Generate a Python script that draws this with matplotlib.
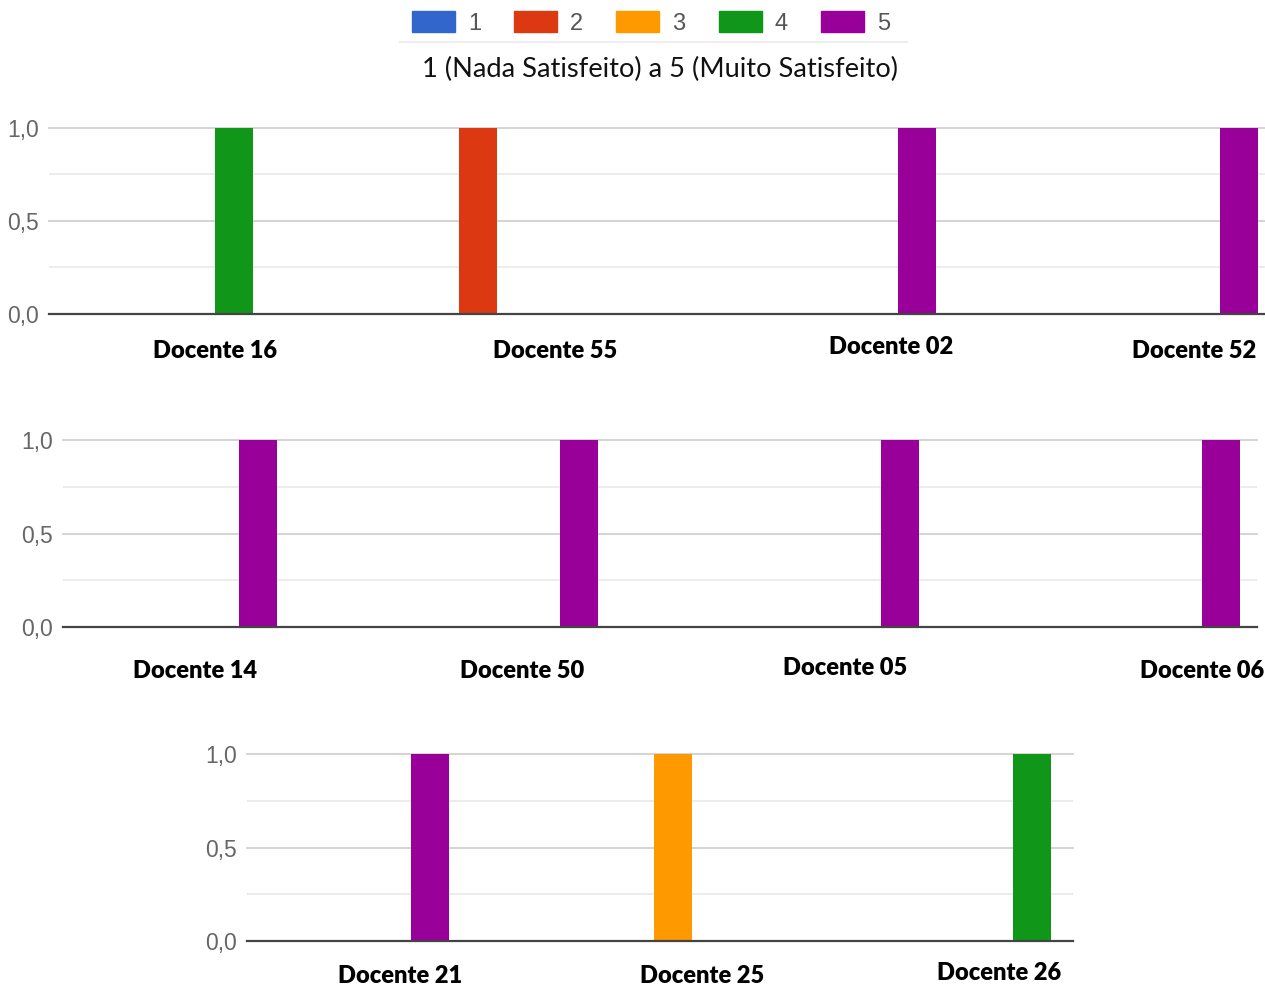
import matplotlib
matplotlib.use("Agg")
import matplotlib.pyplot as plt
from matplotlib.patches import Patch
from matplotlib.lines import Line2D
import numpy as np

###########################################################
### -------------------- DATA -----------------------------
###########################################################

ratings = ['1', '2', '3', '4', '5']
rating_colors = ['#3366cc', '#dc3912', '#ff9900', '#109618', '#990099']
title = '1 (Nada Satisfeito) a 5 (Muito Satisfeito)'

# counts per rating (one list per rating 1..5), one value per docente
row1_names = ['Docente 16', 'Docente 55', 'Docente 02', 'Docente 52']
row1_counts = [[0, 0, 0, 0], [0, 1, 0, 0], [0, 0, 0, 0], [1, 0, 0, 0], [0, 0, 1, 1]]

row2_names = ['Docente 14', 'Docente 50', 'Docente 05', 'Docente 06']
row2_counts = [[0, 0, 0, 0], [0, 0, 0, 0], [0, 0, 0, 0], [0, 0, 0, 0], [1, 1, 1, 1]]

row3_names = ['Docente 21', 'Docente 25', 'Docente 26']
row3_counts = [[0, 0, 0], [0, 0, 0], [0, 1, 0], [0, 0, 1], [1, 0, 0]]

yticks = [0.0, 0.5, 1.0]
ytick_labels = ['0,0', '0,5', '1,0']

###########################################################
### -------------------- LAYOUT ---------------------------
###########################################################

W, H = 1265, 988
# (left, right, top, bottom) in pixels, x limits, label x (data) and label y (axes frac)
rows = [
    dict(names=row1_names, counts=row1_counts, box=(49, 1265, 128, 314),
         xlim=(-0.453, 3.323), lab_x=[0.062, 1.118, 2.161, 3.102],
         lab_y=[-0.199, -0.199, -0.178, -0.199]),
    dict(names=row2_names, counts=row2_counts, box=(63, 1257, 440, 627),
         xlim=(-0.3645, 3.355), lab_x=[0.047, 1.065, 2.072, 3.184],
         lab_y=[-0.235, -0.235, -0.219, -0.235]),
    dict(names=row3_names, counts=row3_counts, box=(247, 1073, 754, 941),
         xlim=(-0.331, 2.25), lab_x=[0.147, 1.091, 2.019],
         lab_y=[-0.187, -0.187, -0.171]),
]

bar_w = 0.121

fig = plt.figure(figsize=(W / 100, H / 100), dpi=100)

for row in rows:
    l, r, t, b = row['box']
    ax = fig.add_axes([l / W, 1 - b / H, (r - l) / W, (b - t) / H])
    x = np.arange(len(row['names']))
    for k in range(len(ratings)):
        ax.bar(x + (k - 2) * bar_w, row['counts'][k], bar_w * 0.98,
               color=rating_colors[k], zorder=3)
    ax.set_xlim(*row['xlim'])
    ax.set_ylim(0, 1.0)
    ax.set_xticks([])
    ax.set_yticks(yticks)
    ax.set_yticklabels(ytick_labels, fontsize=16.5, color='#666666',
                       family='Liberation Sans')
    ax.tick_params(axis='y', length=0, pad=7)
    for spine in ['top', 'right', 'left']:
        ax.spines[spine].set_visible(False)
    ax.spines['bottom'].set_color('#444444')
    ax.spines['bottom'].set_linewidth(1.6)
    ax.spines['bottom'].set_zorder(4)
    for yv in [0.5, 1.0]:
        ax.axhline(yv, color='#d4d4d4', lw=1.4, zorder=1, clip_on=False)
    for yv in [0.25, 0.75]:
        ax.axhline(yv, color='#ececec', lw=1.4, zorder=1)
    for i, name in enumerate(row['names']):
        ax.text(row['lab_x'][i], row['lab_y'][i], name,
                transform=ax.get_xaxis_transform(), ha='center', va='center',
                fontsize=17, fontweight='heavy', family='Lato', color='black')

# legend
handles = [Patch(facecolor=c, edgecolor=c) for c in rating_colors]
fig.legend(handles, ratings, ncol=5, loc='center', bbox_to_anchor=(651 / W, 1 - 23 / H),
           frameon=False, handlelength=1.82, handleheight=1.0, handletextpad=0.55,
           columnspacing=1.4, prop={'family': 'Liberation Sans', 'size': 17},
           labelcolor='#555555')
fig.add_artist(Line2D([400 / W, 907 / W], [1 - 42 / H, 1 - 42 / H],
                      color='#eeeeee', lw=1.5))
fig.text(660 / W, 1 - 69 / H, title, ha='center', va='center', fontsize=19.6,
         family='Lato', color='#111111')

plt.savefig('out.png', dpi=100)
